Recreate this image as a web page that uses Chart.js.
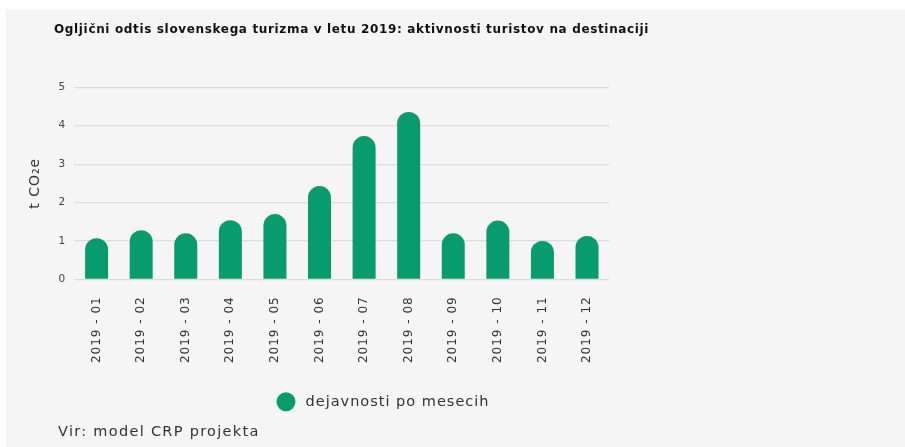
<!DOCTYPE html>
<html>
<head>
<meta charset="utf-8">
<script src="https://cdn.jsdelivr.net/npm/chart.js@4.4.1/dist/chart.umd.min.js"></script>
<style>
  html, body { margin:0; padding:0; background:#ffffff; width:905px; height:447px; overflow:hidden; }
  #panel { position:absolute; left:6px; top:9px; width:899px; height:438px; background:#f5f5f5; }
  #title { position:absolute; left:48px; top:12px; line-height:16px; font-family:"DejaVu Sans"; font-weight:bold; font-size:12px; letter-spacing:0.65px; color:#111111; white-space:nowrap; }
  #source { position:absolute; left:52px; top:413px; line-height:18px; font-family:"DejaVu Sans"; font-size:14.5px; letter-spacing:1.3px; color:#333333; white-space:nowrap; }
  #chart { position:absolute; left:0; top:0; }
</style>
</head>
<body>
<div id="panel">
  <canvas id="chart" width="899" height="438"></canvas>
  <div id="title"></div>
  <div id="source"></div>
</div>
<script>
const titleText = 'Ogljični odtis slovenskega turizma v letu 2019: aktivnosti turistov na destinaciji';
const sourceText = 'Vir: model CRP projekta';
const axisTitle = 't CO₂e';
const seriesLabel = 'dejavnosti po mesecih';
const categories = ['2019 - 01','2019 - 02','2019 - 03','2019 - 04','2019 - 05','2019 - 06','2019 - 07','2019 - 08','2019 - 09','2019 - 10','2019 - 11','2019 - 12'];
const values = [1.07, 1.28, 1.20, 1.54, 1.70, 2.43, 3.73, 4.36, 1.20, 1.53, 1.00, 1.13];
const yTicks = [0, 1, 2, 3, 4, 5];

document.getElementById('title').textContent = titleText;
document.getElementById('source').textContent = sourceText;

const barColor = '#089b6d';
const FONT = 'DejaVu Sans';

const spacingPlugin = {
  id: 'spacing',
  beforeUpdate(c) { c.ctx.letterSpacing = '1px'; },
  beforeDraw(c) { c.ctx.letterSpacing = '1px'; }
};

new Chart(document.getElementById('chart'), {
  type: 'bar',
  data: {
    labels: categories,
    datasets: [{
      label: seriesLabel,
      data: values,
      backgroundColor: barColor,
      borderWidth: 0,
      borderRadius: 12,
      borderSkipped: 'start',
      barPercentage: 1,
      categoryPercentage: 0.516
    }]
  },
  options: {
    responsive: false,
    animation: false,
    devicePixelRatio: 1,
    layout: { padding: { left: 16.6, right: 158.8, top: 78.3, bottom: 28 } },
    plugins: {
      title: { display: false },
      tooltip: { enabled: false },
      legend: {
        position: 'bottom',
        labels: {
          usePointStyle: true,
          pointStyle: 'circle',
          boxWidth: 13.4,
          boxHeight: 13.4,
          padding: 10,
          color: '#333333',
          font: { family: FONT, size: 14.5 },
          generateLabels(chart) {
            const items = Chart.defaults.plugins.legend.labels.generateLabels(chart);
            items.forEach(it => { it.text = ' ' + it.text; it.lineWidth = 0; it.strokeStyle = 'rgba(0,0,0,0)'; });
            return items;
          }
        }
      }
    },
    scales: {
      x: {
        grid: { display: false, drawTicks: false },
        border: { display: false },
        ticks: {
          minRotation: 90, maxRotation: 90, autoSkip: false,
          padding: 17,
          color: '#333333',
          font: { family: FONT, size: 12 }
        },
        afterFit(s) { s.height = 105.15; }
      },
      y: {
        min: yTicks[0],
        max: yTicks[yTicks.length - 1],
        grid: { color: '#dcdcdc', lineWidth: 1.2, drawTicks: false },
        border: { display: false },
        ticks: {
          stepSize: 1,
          padding: 8,
          color: '#444444',
          font: { family: FONT, size: 10.5 },
          callback: (v) => yTicks.includes(v) ? String(v) : ''
        },
        title: {
          display: true,
          text: axisTitle,
          color: '#333333',
          font: { family: FONT, size: 14 },
          padding: { top: 4, bottom: 4 }
        },
        afterFit(s) { s.width = 51.7; }
      },
      yPad: {
        type: 'linear',
        position: 'right',
        display: true,
        grid: { display: false, drawTicks: false },
        border: { display: false },
        ticks: { display: false },
        afterFit(s) { s.width = 136.9; }
      }
    }
  },
  plugins: [spacingPlugin]
});
</script>
</body>
</html>
